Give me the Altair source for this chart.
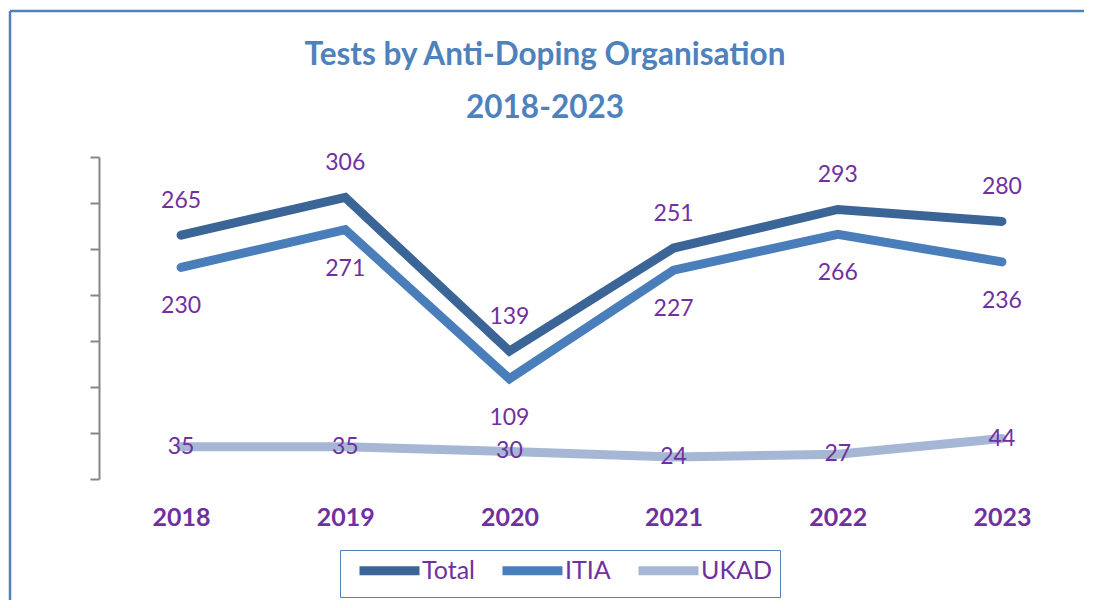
import altair as alt
import pandas as pd

years = ["2018", "2019", "2020", "2021", "2022", "2023"]
total = [265, 306, 139, 251, 293, 280]
itia = [230, 271, 109, 227, 266, 236]
ukad = [35, 35, 30, 24, 27, 44]
series_names = ["Total", "ITIA", "UKAD"]
series_colors = ["#3B6597", "#4A7EBB", "#A5B7D4"]
title_lines = ["Tests by Anti-Doping Organisation", "2018-2023"]

rows = []
for name, vals in zip(series_names, [total, itia, ukad]):
    for y, v in zip(years, vals):
        rows.append({"year": y, "series": name, "value": v})
df = pd.DataFrame(rows)

W, H = 985, 322
FONT = "Lato"
PURPLE = "#7030A0"
BLUE = "#4F81BD"

x_enc = alt.X("year:O", sort=years,
              scale=alt.Scale(type="point", padding=0.5),
              axis=alt.Axis(title=None, labelAngle=0, domain=False, ticks=False,
                            labelPadding=26, labelFont=FONT, labelFontSize=25,
                            labelFontWeight="bold", labelColor=PURPLE))
y_enc = alt.Y("value:Q", scale=alt.Scale(domain=[0, 350], nice=False, zero=True),
              axis=alt.Axis(title=None, labels=False, grid=False,
                            values=[0, 50, 100, 150, 200, 250, 300, 350],
                            tickSize=9, tickWidth=2, tickColor="#868686",
                            domainColor="#868686", domainWidth=2))

base = alt.Chart(df)

lines = base.mark_line(strokeWidth=9, strokeCap="round", strokeJoin="miter").encode(
    x=x_enc,
    y=y_enc,
    color=alt.Color("series:N", sort=series_names,
                    scale=alt.Scale(domain=series_names, range=series_colors),
                    legend=alt.Legend(title=None, orient="none", legendX=241, legendY=393,
                                      direction="horizontal", columns=3,
                                      symbolType="M-4,0L4,0", symbolSize=225,
                                      symbolStrokeWidth=9, symbolOffset=29,
                                      labelFont=FONT, labelFontSize=25, labelColor=PURPLE,
                                      labelOffset=20, columnPadding=9,
                                      padding=8, strokeColor=BLUE)),
    detail="series:N",
)

def labels(name, dy):
    return base.transform_filter(alt.datum.series == name).mark_text(
        font=FONT, fontSize=23, color=PURPLE, dy=dy, baseline="middle"
    ).encode(x=alt.X("year:O", sort=years), y="value:Q", text="value:Q")

one = pd.DataFrame({"a": [0]})
border_top = alt.Chart(one).mark_rule(color=BLUE, strokeWidth=2.5).encode(
    x=alt.value(-89), x2=alt.value(W + 20), y=alt.value(-146))
border_left = alt.Chart(one).mark_rule(color=BLUE, strokeWidth=2.5).encode(
    x=alt.value(-89), y=alt.value(-146), y2=alt.value(H + 200))

title1 = alt.Chart(one).mark_text(font=FONT, fontSize=31.5, fontWeight="bold", color=BLUE,
                                  baseline="middle", align="center").encode(
    x=alt.value(446), y=alt.value(-101), text=alt.value(title_lines[0]))
title2 = alt.Chart(one).mark_text(font=FONT, fontSize=31.5, fontWeight="bold", color=BLUE,
                                  baseline="middle", align="center").encode(
    x=alt.value(446), y=alt.value(-48), text=alt.value(title_lines[1]))

chart = alt.layer(
    border_top, border_left, title1, title2,
    lines,
    labels("Total", -34), labels("ITIA", 39), labels("UKAD", 0),
).properties(
    width=W, height=H,
    autosize=alt.AutoSizeParams(type="none"),
    padding={"left": 91, "top": 149, "right": 0, "bottom": 121},
).configure_view(stroke=None)

chart.save("out.html", embed_options={"renderer": "svg", "actions": False})
